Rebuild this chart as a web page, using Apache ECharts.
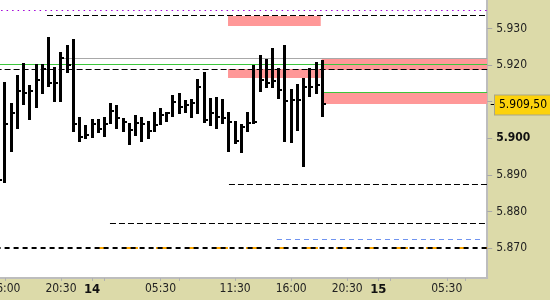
<!DOCTYPE html>
<html><head><meta charset="utf-8">
<script src="https://cdn.jsdelivr.net/npm/echarts@6/dist/echarts.min.js"></script>
<style>html,body{margin:0;padding:0;background:#dcdaa9;}#c{width:550px;height:300px;}</style>
</head><body><div id="c"></div>
<script>
// 30-minute slots (the session has a one-hour pause 22:00-23:00); "14"/"15" mark midnight
const categories = ['15:30','16:00','16:30','17:00','17:30','18:00','18:30','19:00','19:30','20:00','20:30','21:00','21:30','23:00','23:30',
'14','00:30','01:00','01:30','02:00','02:30','03:00','03:30','04:00','04:30','05:00','05:30','06:00','06:30','07:00','07:30','08:00','08:30','09:00','09:30','10:00','10:30','11:00','11:30','12:00','12:30','13:00','13:30','14:00','14:30','15:00','15:30','16:00','16:30','17:00','17:30','18:00','18:30','19:00','19:30','20:00','20:30','21:00','21:30','23:00','23:30',
'15','00:30','01:00','01:30','02:00','02:30','03:00','03:30','04:00','04:30','05:00','05:30','06:00','06:30','07:00','07:30','08:00','08:30'];

const highs  = [5896.8,5915.5,5909.7,5917.3,5920.7,5914.6,5920.2,5920.2,5927.6,5919.4,5923.7,5925.6,5927.2,5905.9,5903.5,5905.3,5905.2,5905.7,5909.7,5909.1,5905.5,5904.1,5906.4,5905.8,5904.7,5907.3,5908.2,5907.3,5911.8,5912.3,5910.5,5910.7,5916.2,5918.2,5910.9,5911.2,5910.7,5907.2,5904.7,5903.9,5907.2,5920.0,5922.8,5921.7,5924.7,5919.1,5925.5,5913.5,5914.8,5916.5,5919.1,5920.9,5921.5];
const lows   = [5887.2,5887.7,5896.3,5902.5,5909.2,5905.0,5908.4,5912.1,5914.1,5910.0,5910.0,5917.8,5901.8,5899.1,5899.9,5900.0,5901.4,5900.4,5903.9,5902.5,5901.8,5898.2,5900.5,5899.1,5899.9,5901.8,5903.6,5904.5,5905.7,5906.6,5906.8,5905.5,5906.6,5904.1,5903.4,5902.5,5903.8,5896.3,5898.4,5896.1,5901.8,5903.8,5912.7,5913.7,5913.8,5910.7,5899.1,5898.6,5902.0,5892.2,5911.4,5912.1,5905.7];
const closes = [5888.6,5903.9,5906.8,5912.9,5912.5,5912.9,5915.9,5918.9,5915.2,5915.0,5921.9,5920.0,5903.8,5900.4,5900.9,5903.9,5902.5,5903.8,5907.5,5905.5,5904.4,5902.3,5904.1,5903.9,5902.0,5903.6,5906.4,5906.8,5910.0,5908.6,5909.1,5909.6,5914.1,5905.0,5906.8,5905.9,5905.5,5904.4,5899.3,5903.0,5904.1,5904.5,5915.9,5915.2,5915.7,5913.2,5910.3,5910.5,5910.5,5913.9,5913.9,5914.6,5909.5];

const labelIndex = [1,10,15,26,38,47,56,61,72];
const tickIndex  = [1,10,15,17,26,29,38,47,56,61,63,72,75];
const yRange = [5861.79, 5937.81];
const lastPrice = 5909.5;

// horizontal levels: value, from slot, to slot
const dashedLevels = [{v:5933.6,from:7.76,to:78.5},{v:5918.9,from:-0.5,to:78.5},{v:5887.4,from:37.0,to:78.5},{v:5876.9,from:17.88,to:78.5}];
const dottedLevels = [{v:5935.0,from:-0.5,to:78.5}];
const greenLevels  = [{v:5920.2,from:-0.5,to:78.5},{v:5912.7,from:51.9,to:78.5}];
const grayLevels   = [{v:5921.9,from:9.85,to:78.5}];
const blueLevels   = [{v:5872.4,from:44.72,to:77.62}];
const orangeLevels = [{v:5870.0,from:15.63,to:78.5}];
const heavyLevels  = [{v:5870.0,from:-0.5,to:78.5}];
// zones: low, high, from slot, to slot
const zones = [[5930.8,5933.5,36.85,51.75],[5916.6,5919.0,36.85,51.75],[5918.7,5921.9,51.9,78.5],[5909.4,5912.3,51.9,78.5]];

const FONT = '"DejaVu Sans Condensed","Liberation Sans",sans-serif';
function fmtBR(v, dec) {
  const s = v.toFixed(dec).split('.');
  const i = s[0].replace(/\B(?=(\d{3})+(?!\d))/g, '.');
  return s[1] ? i + ',' + s[1] : i;
}
function levelSeries(arr, style, z) {
  return {
    type:'custom', xAxisIndex:1, yAxisIndex:0, z:z, silent:true, animation:false,
    data: arr.map(d => [d.from, d.to, d.v]),
    encode:{x:[0,1], y:2},
    renderItem(params, api) {
      const a = api.coord([api.value(0), api.value(2)]);
      const b = api.coord([api.value(1), api.value(2)]);
      const off = (style.lineWidth % 2) ? 0.5 : 0;
      const y = Math.round(a[1]) + off;
      return {type:'line', shape:{x1:a[0], y1:y, x2:b[0], y2:y}, style:Object.assign({fill:null}, style)};
    }
  };
}

const chart = echarts.init(document.getElementById('c'), null, {renderer:'canvas'});
const barData = highs.map((h, i) => [i, h, lows[i], closes[i]]);

chart.setOption({
  animation:false,
  backgroundColor:'#dcdaa9',
  grid:{left:-4.4, right:62.8, top:0, bottom:22, show:true, backgroundColor:'#ffffff', borderWidth:0, containLabel:false, outerBoundsMode:'none'},
  xAxis:[{
    type:'category', data:categories, boundaryGap:true, position:'bottom',
    axisLine:{show:true, onZero:false, lineStyle:{color:'#bdbdbd', width:2}},
    axisTick:{show:true, alignWithLabel:true, length:3, interval:(i)=>tickIndex.includes(i), lineStyle:{color:'#b0b0b0'}},
    axisLabel:{interval:(i)=>labelIndex.includes(i), margin:5, color:'#222', fontSize:12, fontFamily:FONT,
      formatter:(v)=> v.length===2 ? '{b|'+v+'}' : v,
      rich:{b:{fontWeight:'bold', fontSize:13, color:'#111', fontFamily:FONT}}},
    splitLine:{show:false}
  },{
    type:'value', min:-0.5, max:78.5, show:false, axisLine:{onZero:false}
  }],
  yAxis:{
    type:'value', position:'right', min:yRange[0], max:yRange[1], splitNumber:8,
    axisLine:{show:true, onZero:false, lineStyle:{color:'#bdbdbd', width:2}},
    axisTick:{show:true, length:5, lineStyle:{color:'#a8a8a8'}},
    axisLabel:{margin:9, color:'#222', fontSize:12, fontFamily:FONT, showMinLabel:false, showMaxLabel:false,
      formatter:(v)=>{
        if (Math.abs(v/10 - Math.round(v/10)) > 1e-6) return '';
        if (Math.abs(v - lastPrice) < 4) return '';
        const t = fmtBR(v, 0);
        return Math.round(v) % 100 === 0 ? '{b|'+t+'}' : t;
      },
      rich:{b:{fontWeight:'bold', fontSize:12, color:'#111', fontFamily:FONT}}},
    splitLine:{show:false}
  },
  series:[
    {
      type:'custom', xAxisIndex:1, yAxisIndex:0, z:1, silent:true, animation:false,
      data:zones, encode:{x:[2,3], y:[0,1]},
      renderItem(params, api) {
        const a = api.coord([api.value(2), api.value(1)]);
        const b = api.coord([api.value(3), api.value(0)]);
        return {type:'rect', shape:{x:a[0], y:Math.round(a[1]), width:b[0]-a[0], height:Math.round(b[1])-Math.round(a[1])}, style:{fill:'#ff9898'}};
      }
    },
    levelSeries(grayLevels,  {stroke:'#a8a8a8', lineWidth:1}, 2),
    levelSeries(greenLevels, {stroke:'#3cc63c', lineWidth:1}, 2),
    levelSeries(dottedLevels,{stroke:'#a000d8', lineWidth:1, lineDash:[1.5,4]}, 2),
    levelSeries(dashedLevels,{stroke:'#000000', lineWidth:1, lineDash:[6,3]}, 2),
    levelSeries(blueLevels,  {stroke:'#6f93f0', lineWidth:1, lineDash:[5,4]}, 2),
    levelSeries(orangeLevels,{stroke:'#ffa800', lineWidth:2, lineDash:[12,18]}, 2),
    levelSeries(heavyLevels, {stroke:'#000000', lineWidth:2, lineDash:[5,4]}, 3),
    {
      type:'custom', xAxisIndex:0, yAxisIndex:0, z:4, silent:true, animation:false,
      data:barData, encode:{x:0, y:[1,2,3]},
      renderItem(params, api) {
        const i = api.value(0);
        const h = api.coord([i, api.value(1)]);
        const l = api.coord([i, api.value(2)]);
        const c = api.coord([i, api.value(3)]);
        const x0 = Math.round(h[0] - 1.5), x1 = x0 + 3;
        const yt = Math.round(h[1]), yb = Math.round(l[1]), yc = Math.round(c[1]);
        return {type:'group', children:[
          {type:'rect', shape:{x:x0, y:yt, width:x1-x0, height:Math.max(1, yb-yt)}, style:{fill:'#000'}},
          {type:'rect', shape:{x:x1, y:yc-1, width:2, height:2}, style:{fill:'#000'}}
        ]};
      }
    },
    {
      type:'custom', xAxisIndex:1, yAxisIndex:0, z:10, silent:true, animation:false, clip:false,
      data:[[78.5, lastPrice]], encode:{x:0, y:1},
      renderItem(params, api) {
        const p = api.coord([api.value(0), api.value(1)]);
        const y = Math.round(p[1]) + 0.5;
        return {type:'group', children:[
          {type:'line', shape:{x1:p[0] + 3.5, y1:y, x2:p[0] + 7, y2:y}, style:{stroke:'#000', lineWidth:1}},
          {type:'text', x:Math.round(p[0]) + 8, y:Math.round(p[1]) + 1,
            style:{text:fmtBR(api.value(1), 2), fill:'#000', fontSize:12, fontFamily:FONT,
              align:'left', verticalAlign:'middle',
              backgroundColor:'#fcd20c', borderColor:'#a8a68a', borderWidth:1, padding:[4,3,3,4]}}
        ]};
      }
    }
  ]
});
</script></body></html>
